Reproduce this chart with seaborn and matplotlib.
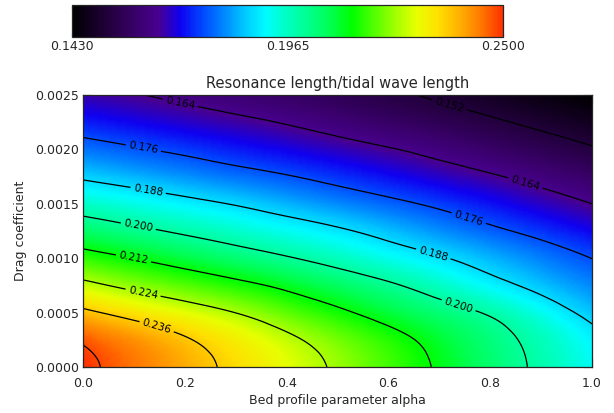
import numpy as np
import matplotlib

matplotlib.use('Agg')

import matplotlib.pyplot as plt
import matplotlib.tri as mtri
from matplotlib.ticker import MultipleLocator
import seaborn as sns

sns.set_style('ticks')
plt.rcParams['font.family'] = ['DejaVu Sans']

# bed profile parameter (x) and drag coefficient (y)
alpha = [0.0, 0.1, 0.2, 0.3, 0.4, 0.5, 0.6, 0.7, 0.8, 0.9, 1.0]
drag = [0.0, 0.00025, 0.0005, 0.00075, 0.001, 0.00125,
        0.0015, 0.00175, 0.002, 0.00225, 0.0025]

# resonance length / tidal wave length, one row per drag value
ratio = [
    [.2500, .2446, .2394, .2340, .2284, .2228, .2169, .2110, .2046, .1983, .1920],
    [.2470, .2419, .2368, .2313, .2257, .2202, .2148, .2092, .2033, .1971, .1904],
    [.2378, .2329, .2284, .2239, .2187, .2136, .2086, .2038, .1990, .1925, .1858],
    [.2262, .2219, .2181, .2143, .2102, .2057, .2012, .1961, .1908, .1857, .1809],
    [.2156, .2119, .2081, .2044, .2007, .1968, .1927, .1887, .1845, .1802, .1759],
    [.2053, .2019, .1987, .1955, .1923, .1891, .1854, .1815, .1776, .1738, .1699],
    [.1958, .1931, .1903, .1875, .1843, .1811, .1779, .1746, .1711, .1675, .1640],
    [.1870, .1844, .1818, .1791, .1765, .1736, .1707, .1677, .1648, .1616, .1584],
    [.1793, .1768, .1744, .1719, .1695, .1670, .1645, .1617, .1587, .1557, .1527],
    [.1720, .1699, .1678, .1657, .1635, .1609, .1583, .1557, .1531, .1504, .1478],
    [.1660, .1644, .1623, .1601, .1579, .1556, .1533, .1509, .1483, .1456, .1430],
]

levels = [0.152, 0.164, 0.176, 0.188, 0.200, 0.212, 0.224, 0.236, 0.248]
cbar_ticks = [0.1430, 0.1965, 0.2500]

# IDL-like rainbow: black -> purple -> blue -> cyan -> green -> yellow -> red
rainbow = sns.blend_palette(
    ['#000000', '#140024', '#280048', '#3a006c', '#480090', '#1000f0',
     '#0044ff', '#0084ff', '#00c8ff', '#00fcff', '#00ffc0', '#00ff8c',
     '#00ff50', '#00ff00', '#50ff00', '#a0ff00', '#e8ff00', '#ffe000',
     '#ffb000', '#ff7800', '#ff3000'], n_colors=256, as_cmap=True)

fig = plt.figure(figsize=(6.14, 4.13), dpi=100)
ax = fig.add_axes([0.1352, 0.1114, 0.829, 0.6586])
cax = fig.add_axes([0.1168, 0.9097, 0.703, 0.0782])

# smooth the grid with a cubic interpolant on a triangulation
# (built in units where both axes span 0..1, drawn in data units)
ymax = drag[-1]
xx, yy = np.meshgrid(alpha, np.array(drag) / ymax)
z = np.array(ratio).ravel()
tri = mtri.Triangulation(xx.ravel(), yy.ravel())
interp = mtri.CubicTriInterpolator(tri, z, kind='min_E')
tri_fine, z_fine = mtri.UniformTriRefiner(tri).refine_field(
    z, triinterpolator=interp, subdiv=4)
tri_draw = mtri.Triangulation(tri_fine.x, tri_fine.y * ymax, tri_fine.triangles)

im = ax.tripcolor(tri_draw, z_fine, shading='gouraud', cmap=rainbow,
                  vmin=cbar_ticks[0], vmax=cbar_ticks[-1], rasterized=True)

cs = ax.tricontour(tri_draw, z_fine, levels=levels, colors='black',
                   linewidths=0.9)
label_spots = [(0.72, 0.00242), (0.19, 0.00241), (0.87, 0.0017),
               (0.12, 0.00205), (0.76, 0.0014), (0.13, 0.00168),
               (0.69, 0.00107), (0.11, 0.00133), (0.74, 0.0006),
               (0.10, 0.00102), (0.12, 0.00073), (0.15, 0.00045)]
ax.clabel(cs, levels=levels[:-1], fmt='%.3f', fontsize=7.5, inline=True,
          inline_spacing=3, manual=label_spots)

ax.set_xlim(0, 1)
ax.set_ylim(0, 0.0025)
ax.xaxis.set_major_locator(MultipleLocator(0.2))
ax.xaxis.set_minor_locator(MultipleLocator(0.05))
ax.yaxis.set_major_locator(MultipleLocator(0.0005))
ax.yaxis.set_minor_locator(MultipleLocator(0.0001))
ax.xaxis.set_major_formatter('{x:.1f}')
ax.yaxis.set_major_formatter('{x:.4f}')
ax.tick_params(which='both', direction='in', top=True, right=True,
               labelsize=9, color='black')
ax.tick_params(which='major', length=6.5, width=0.8)
ax.tick_params(which='minor', length=3.2, width=0.8)
ax.tick_params(axis='x', pad=7)
ax.tick_params(axis='y', pad=3)
for s in ax.spines.values():
    s.set_linewidth(0.9)

ax.set_title('Resonance length/tidal wave length', fontsize=10.5, pad=5)
ax.set_xlabel('Bed profile parameter alpha', fontsize=9, labelpad=3)
ax.set_ylabel('Drag coefficient', fontsize=9, labelpad=6)

cb = fig.colorbar(im, cax=cax, orientation='horizontal', ticks=cbar_ticks,
                  format='%.4f')
cb.outline.set_linewidth(0.9)
cax.tick_params(direction='in', top=True, length=3, width=0.8,
                labelsize=9, pad=2)

fig.savefig('out.png', dpi=100)
